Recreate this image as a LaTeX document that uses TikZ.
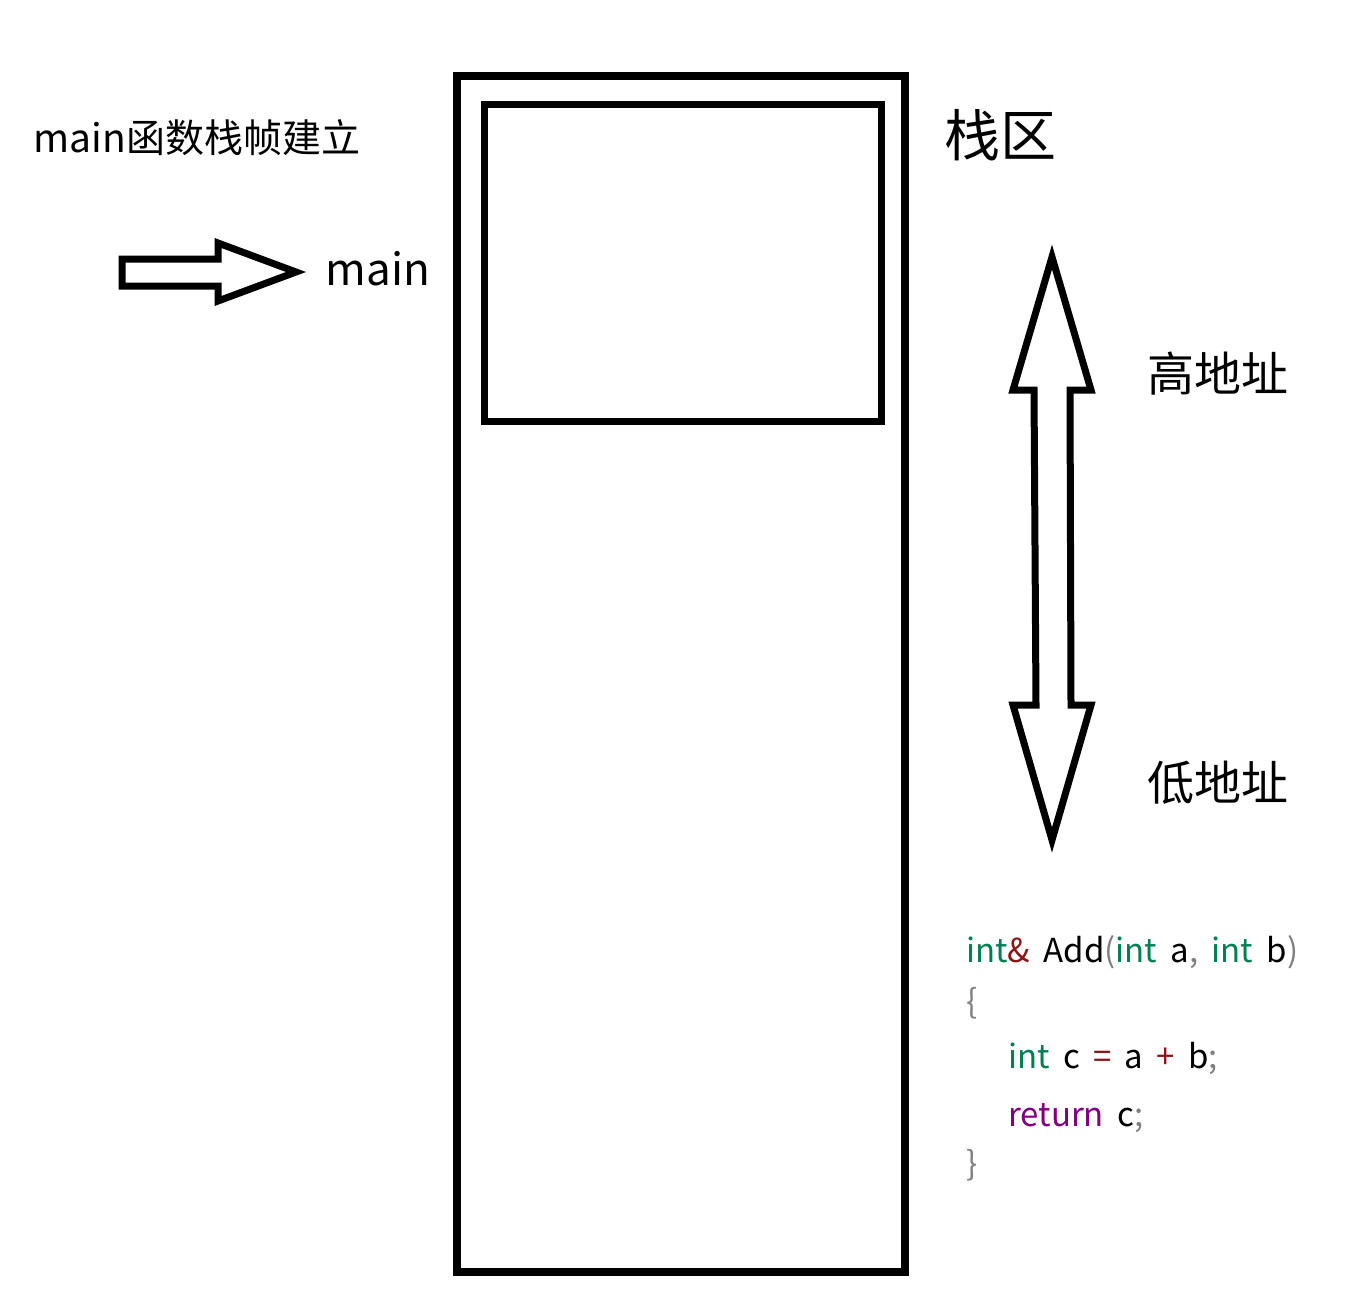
\documentclass[tikz,border=0pt]{standalone}
\usepackage{fontspec}
\setmainfont{Noto Sans CJK SC}
\newfontfamily\codefont[WordSpace=1.8]{Noto Sans CJK SC}
\usepackage{xcolor}
\usetikzlibrary{positioning}
\definecolor{kwgreen}{RGB}{0,128,80}
\definecolor{opred}{RGB}{140,20,20}
\definecolor{kwpurple}{RGB}{128,0,128}
\definecolor{punct}{RGB}{128,128,128}
\tikzset{
    label/.style={inner sep=0pt, font=\fontsize{#1}{#1}\selectfont},
    codeline/.style={inner sep=0pt, anchor=base west, font=\codefont\fontsize{33}{33}\selectfont},
    hollow/.style={line width=7, line join=miter}
}

\begin{document}
\begin{tikzpicture}[x=1pt, y=-1pt]
    \useasboundingbox (0,0) rectangle (1367,1296);

    % stack area
    \draw[line width=8] (457,76) rectangle (905,1272);
    \draw[line width=7] (484,104) rectangle (881,421);

    % labels
    \node[label=39] (title) at (197,138) {main函数栈帧建立};
    \node[label=44] (mainlbl) at (378,269) {main};
    \node[label=56] (stack) at (1000,135) {栈区};
    \node[label=47] (high) at (1218,374) {高地址};
    \node[label=47] (low) at (1218,783) {低地址};

    % arrow to main
    \draw[hollow] (122,259) -- (218,259) -- (218,243) -- (296,272) -- (218,301) -- (218,286) -- (122,286) -- cycle;

    % up / down arrow
    \draw[hollow] (1052,257) -- (1091,390) -- (1070,390) -- (1071,705) -- (1091,705) -- (1052,840)
        -- (1013,705) -- (1036,705) -- (1034,390) -- (1013,390) -- cycle;

    % code
    \node[codeline] (sig) at (966,962) {\textcolor{kwgreen}{int}\textcolor{opred}{\&} Add\textcolor{punct}{(}\textcolor{kwgreen}{int} a\textcolor{punct}{,} \textcolor{kwgreen}{int} b\textcolor{punct}{)}};
    \node[codeline] (open) at (966,1013) {\textcolor{punct}{\{}};
    \node[codeline] (body) at (1008,1068) {\textcolor{kwgreen}{int} c \textcolor{opred}{=} a \textcolor{opred}{+} b\textcolor{punct}{;}};
    \node[codeline] (ret) at (1008,1126) {\textcolor{kwpurple}{return} c\textcolor{punct}{;}};
    \node[codeline] (close) at (966,1175) {\textcolor{punct}{\}}};
\end{tikzpicture}
\end{document}
